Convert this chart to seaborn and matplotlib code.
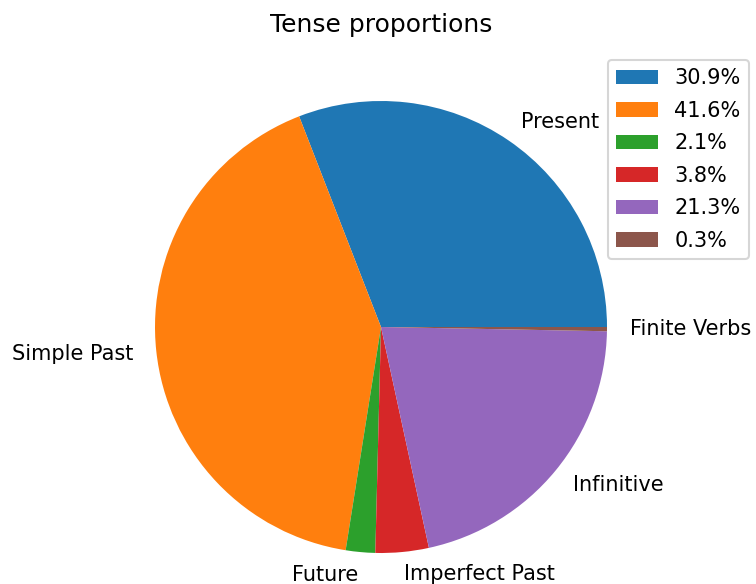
import matplotlib
matplotlib.use("Agg")
import matplotlib.pyplot as plt
import seaborn as sns

# Dados das proporções de tempo verbal
tenses = ["Present", "Simple Past", "Future", "Imperfect Past", "Infinitive", "Finite Verbs"]
proportions = [30.9, 41.6, 2.1, 3.8, 21.3, 0.3]
legend_labels = [f"{p:.1f}%" for p in proportions]

colors = sns.color_palette("tab10", len(tenses))

W, H = 756, 584
fig = plt.figure(figsize=(W / 150, H / 150), dpi=150)

# Centro e raio da pizza em pixels
cx, cy, r = 381, 327, 226
ax = fig.add_axes([(cx - r) / W, (H - cy - r) / H, 2 * r / W, 2 * r / H])

wedges, texts = ax.pie(proportions, labels=tenses, colors=colors, startangle=0,
                       wedgeprops={"linewidth": 0})
ax.set_xlim(-1, 1)
ax.set_ylim(-1, 1)
ax.set_aspect("equal")

fig.text(cx / W, 1 - 25 / H, "Tense proportions", ha="center", va="center", fontsize=12)

ax.legend(wedges, legend_labels, loc="upper right",
          bbox_to_anchor=(749 / W, 1 - 60 / H), bbox_transform=fig.transFigure,
          borderaxespad=0, labelspacing=0.6)

fig.savefig("out.png", dpi=150)
